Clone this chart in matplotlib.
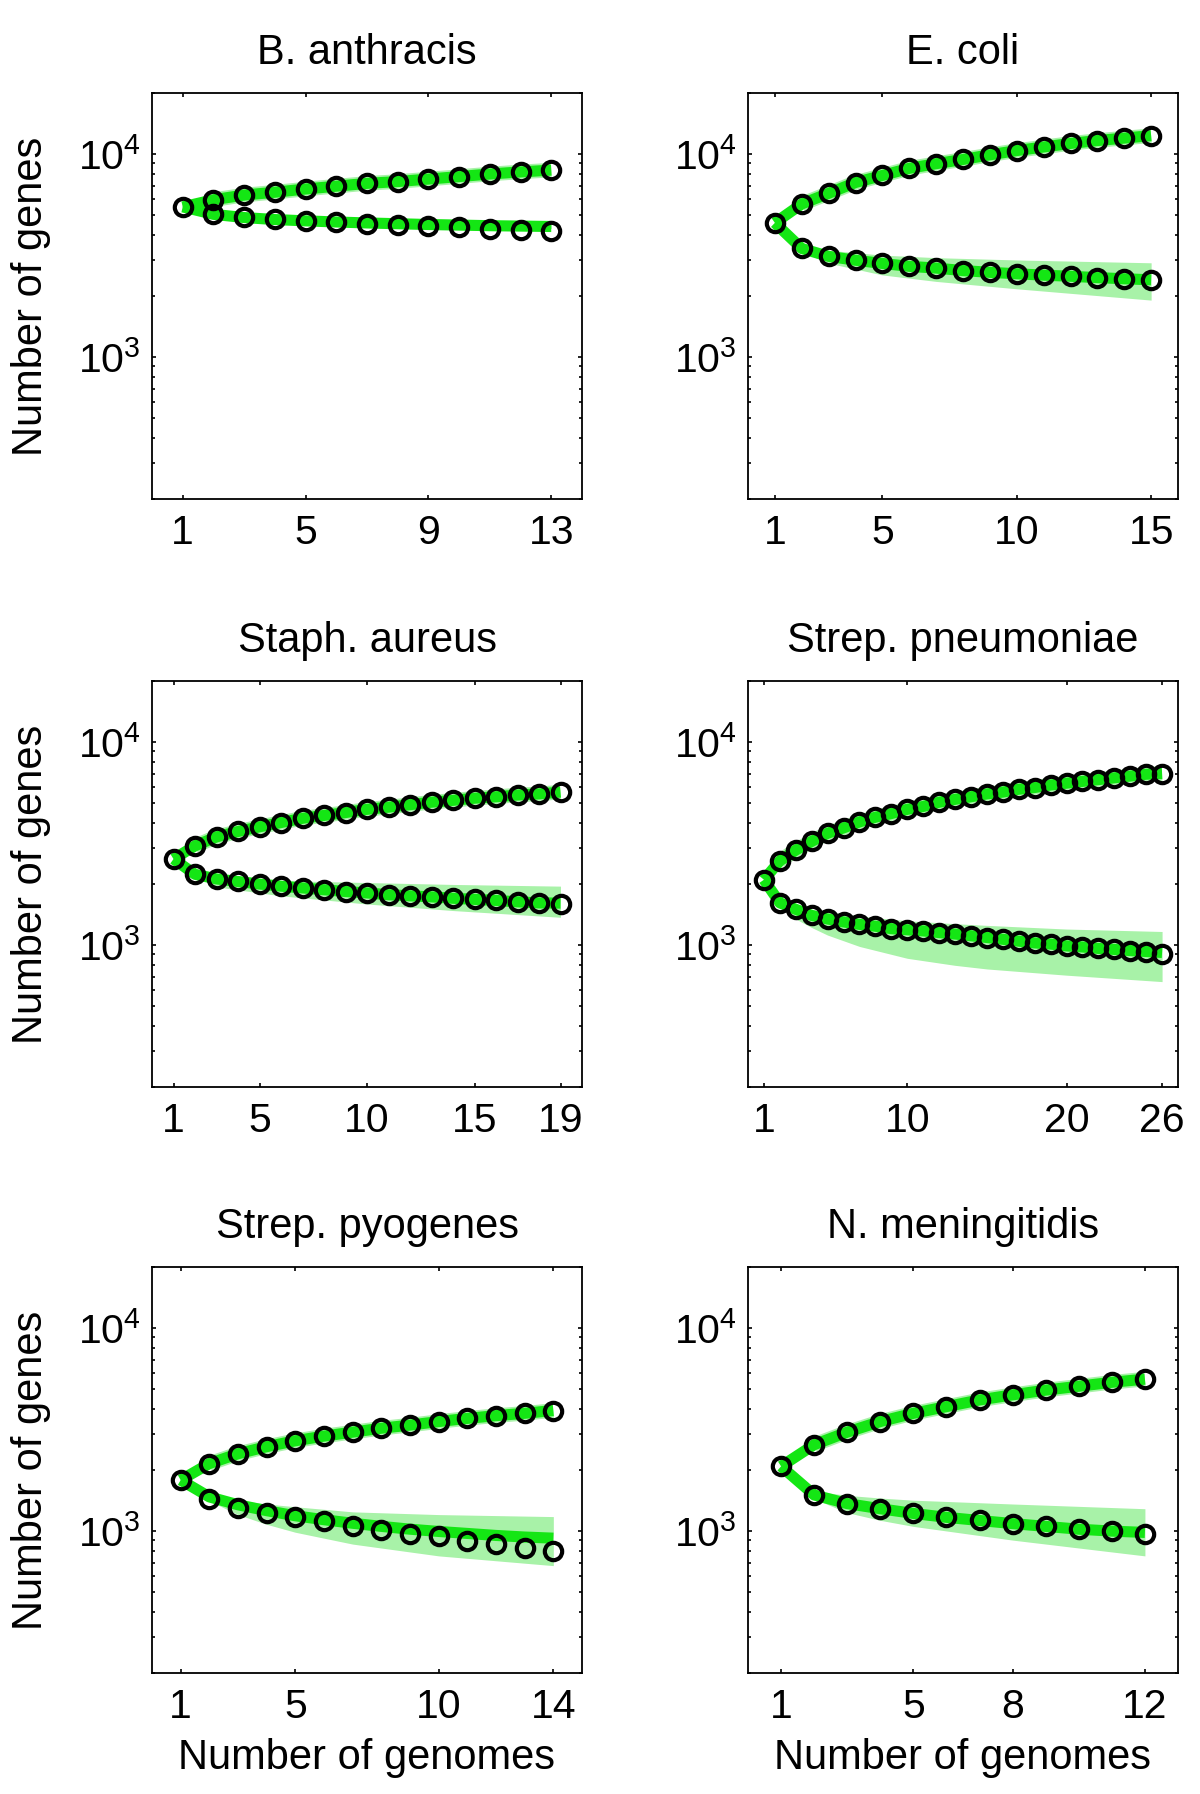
import matplotlib.pyplot as plt
import numpy as np

plt.rcParams['font.family'] = 'Liberation Sans'
plt.rcParams['mathtext.fontset'] = 'custom'
plt.rcParams['mathtext.rm'] = 'Liberation Sans'
plt.rcParams['mathtext.default'] = 'regular'

# B. anthracis
ba_pan = [5495, 5960, 6285, 6490, 6730, 6950, 7175, 7325, 7535, 7750, 7980, 8170, 8340]
ba_core = [5495, 5074, 4890, 4774, 4697, 4640, 4550, 4495, 4425, 4355, 4289, 4230, 4198]
ba_core_fit = [5495, 5050, 4870, 4760, 4690, 4630, 4580, 4540, 4500, 4470, 4440, 4420, 4400]
ba_band_x = [2, 5, 9, 13]
ba_band_lo = [5000, 4600, 4420, 4300]
ba_band_hi = [5120, 4800, 4700, 4680]
ba_ticks = [1, 5, 9, 13]

# E. coli
ec_pan = [4585, 5680, 6410, 7245, 7850, 8510, 8970, 9410, 9920, 10410, 10840, 11290, 11660, 11990, 12330]
ec_core = [4585, 3428, 3136, 3000, 2893, 2800, 2745, 2668, 2616, 2574, 2533, 2502, 2463, 2432, 2403]
ec_core_fit = [4585, 3428, 3136, 3000, 2893, 2800, 2745, 2668, 2616, 2574, 2533, 2502, 2463, 2432, 2403]
ec_band_x = [2, 3, 5, 7, 10, 15]
ec_band_lo = [3300, 2900, 2540, 2360, 2170, 1909]
ec_band_hi = [3550, 3360, 3180, 3090, 3010, 2915]
ec_ticks = [1, 5, 10, 15]

# Staph. aureus
sa_pan = [2655, 3083, 3413, 3628, 3826, 4016, 4214, 4353, 4496, 4665, 4782, 4919, 5058, 5165, 5292, 5378,
          5488, 5558, 5673]
sa_core = [2655, 2233, 2119, 2058, 2000, 1952, 1913, 1874, 1836, 1807, 1771, 1749, 1728, 1701, 1680, 1660,
           1634, 1614, 1594]
sa_core_fit = [2655, 2233, 2119, 2058, 2000, 1952, 1913, 1874, 1836, 1807, 1771, 1749, 1728, 1701, 1680, 1660,
               1634, 1614, 1610]
sa_band_x = [2, 3, 6, 10, 14, 19]
sa_band_lo = [2200, 1936, 1749, 1594, 1480, 1371]
sa_band_hi = [2275, 2180, 2080, 2033, 1990, 1952]
sa_ticks = [1, 5, 10, 15, 19]

# Strep. pneumoniae
sp_pan = [2099, 2600, 2938, 3243, 3557, 3779, 4045, 4266, 4446, 4666, 4820, 5058, 5224, 5380, 5557, 5673,
          5861, 5975, 6149, 6276, 6404, 6535, 6669, 6805, 6945, 7002]
sp_core = [2099, 1615, 1501, 1400, 1345, 1301, 1265, 1239, 1205, 1190, 1175, 1153, 1134, 1112, 1090, 1068,
           1046, 1025, 1012, 991, 979, 963, 952, 933, 922, 904]
sp_core_fit = [2099, 1615, 1501, 1400, 1345, 1301, 1265, 1239, 1205, 1190, 1175, 1153, 1134, 1112, 1090, 1068,
               1046, 1025, 1012, 991, 979, 963, 952, 940, 930, 920]
sp_band_x = [2, 3, 4, 5, 7, 10, 13, 15, 20, 26]
sp_band_lo = [1582, 1345, 1220, 1120, 985, 861, 795, 763, 711, 661]
sp_band_hi = [1615, 1549, 1500, 1459, 1390, 1318, 1275, 1251, 1200, 1167]
sp_ticks = [1, 10, 20, 26]

# Strep. pyogenes
sy_pan = [1784, 2151, 2405, 2606, 2786, 2938, 3073, 3212, 3328, 3465, 3591, 3705, 3805, 3926]
sy_core = [1784, 1441, 1301, 1222, 1169, 1118, 1064, 1018, 965, 944, 894, 863, 826, 800]
sy_core_fit = [1784, 1474, 1348, 1261, 1190, 1138, 1093, 1055, 1022, 996, 974, 952, 935, 923]
sy_band_x = [2, 3, 4, 5, 7, 10, 14]
sy_band_lo = [1409, 1206, 1080, 987, 863, 755, 676]
sy_band_hi = [1507, 1420, 1360, 1318, 1244, 1206, 1179]
sy_ticks = [1, 5, 10, 14]

# N. meningitidis
nm_pan = [2085, 2665, 3073, 3465, 3805, 4104, 4426, 4691, 4948, 5173, 5408, 5606]
nm_core = [2085, 1507, 1366, 1289, 1222, 1169, 1128, 1089, 1055, 1022, 996, 965]
nm_core_fit = [2085, 1507, 1366, 1289, 1222, 1169, 1128, 1089, 1055, 1022, 1000, 985]
nm_band_x = [2, 3, 4, 5, 8, 12]
nm_band_lo = [1441, 1233, 1130, 1055, 903, 755]
nm_band_hi = [1575, 1500, 1455, 1420, 1360, 1289]
nm_ticks = [1, 5, 8, 12]

green = '#14e614'
light = '#a8f2a8'

W, H = 1200.0, 1794.0
col_left = [152 / W, 748 / W]
row_bottom = [1 - 499 / H, 1 - 1087 / H, 1 - 1673 / H]
ax_w = 430 / W
ax_h = 406 / H

panels = [
    ('B. anthracis', ba_pan, ba_core, ba_core_fit, ba_band_x, ba_band_lo, ba_band_hi, ba_ticks),
    ('E. coli', ec_pan, ec_core, ec_core_fit, ec_band_x, ec_band_lo, ec_band_hi, ec_ticks),
    ('Staph. aureus', sa_pan, sa_core, sa_core_fit, sa_band_x, sa_band_lo, sa_band_hi, sa_ticks),
    ('Strep. pneumoniae', sp_pan, sp_core, sp_core_fit, sp_band_x, sp_band_lo, sp_band_hi, sp_ticks),
    ('Strep. pyogenes', sy_pan, sy_core, sy_core_fit, sy_band_x, sy_band_lo, sy_band_hi, sy_ticks),
    ('N. meningitidis', nm_pan, nm_core, nm_core_fit, nm_band_x, nm_band_lo, nm_band_hi, nm_ticks),
]

fig = plt.figure(figsize=(12, 17.94), dpi=100)

for i, (title, pan, core, core_fit, bx, blo, bhi, ticks) in enumerate(panels):
    r, c = i // 2, i % 2
    ax = fig.add_axes([col_left[c], row_bottom[r], ax_w, ax_h])
    x = np.arange(1, len(pan) + 1)

    ax.fill_between(bx, blo, bhi, color=light, lw=0, zorder=1)
    ax.plot(x[1:], pan[1:], color=light, lw=10.5, solid_capstyle='butt', zorder=1)
    ax.plot(x, pan, color=green, lw=8, solid_capstyle='butt', zorder=2)
    ax.plot(x, core_fit, color=green, lw=8, solid_capstyle='butt', zorder=2)
    ax.plot(x, pan, 'o', mfc='none', mec='k', ms=12.5, mew=3, zorder=3)
    ax.plot(x[1:], core[1:], 'o', mfc='none', mec='k', ms=12.5, mew=3, zorder=3)

    ax.set_yscale('log')
    ax.set_ylim(200, 20000)
    ax.set_xlim(0, len(pan) + 1)
    ax.set_xticks(ticks)
    ax.set_xticklabels([str(t) for t in ticks])
    ax.set_yticks([1e3, 1e4])
    ax.set_yticklabels([r'$10^3$', r'$10^4$'])
    ax.tick_params(which='both', direction='in', top=True, right=True, width=1.2)
    ax.tick_params(which='major', length=3, labelsize=29.5)
    ax.tick_params(axis='x', pad=11)
    ax.tick_params(axis='y', pad=8)
    ax.tick_params(which='minor', length=2)
    for s in ax.spines.values():
        s.set_linewidth(1.3)

    ax.set_title(title, fontsize=30, pad=21)
    if c == 0:
        ax.set_ylabel('Number of genes', fontsize=30)
        ax.yaxis.set_label_coords(-0.235, 0.5)
    if r == 2:
        ax.set_xlabel('Number of genomes', fontsize=30)
        ax.xaxis.set_label_coords(0.5, -0.16)

fig.savefig('out.png', dpi=100)
